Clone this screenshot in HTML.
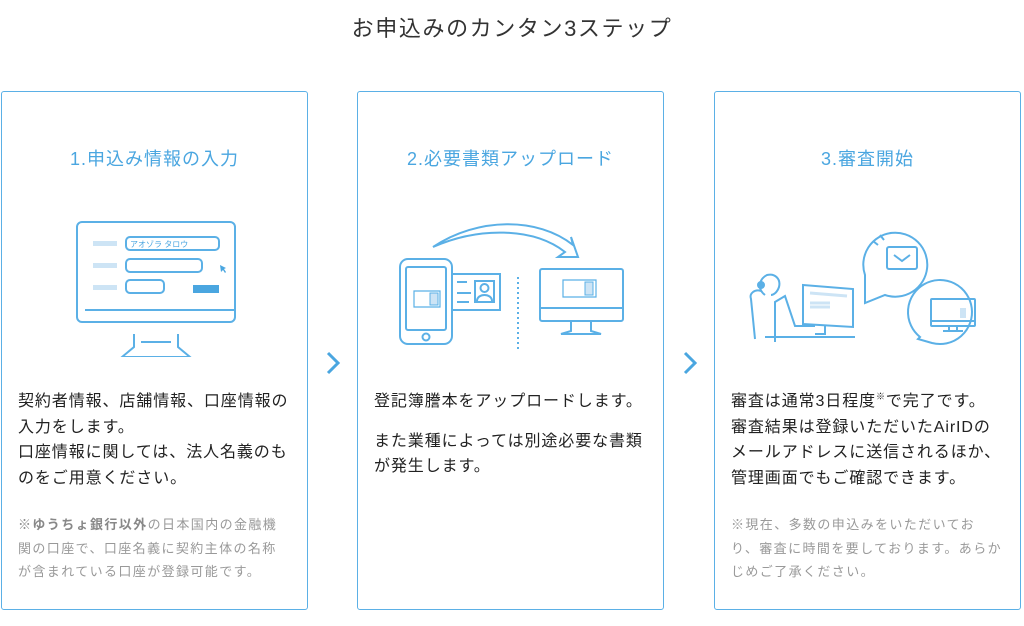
<!DOCTYPE html>
<html><head><meta charset="utf-8"><style>
body{margin:0;width:1024px;height:626px;background:#fff;font-family:"Liberation Sans","Noto Sans CJK JP",sans-serif;color:#222;position:relative;overflow:hidden}
h1{position:absolute;top:11px;left:0;width:1024px;text-align:center;font-size:22px;letter-spacing:1.6px;font-weight:normal;margin:0;color:#333}
.card{position:absolute;top:91px;width:307px;height:519px;border:1px solid #5bb0e6;border-radius:3px;box-sizing:border-box}
.card h2{position:absolute;top:53px;left:0;width:100%;text-align:center;font-size:18px;letter-spacing:1px;font-weight:normal;color:#4aa6e0;margin:0}
.body{position:absolute;left:16px;top:297px;width:276px;font-size:16px;letter-spacing:0.9px;line-height:25.6px;color:#222}
.note{position:absolute;left:16px;top:421px;width:272px;font-size:13px;letter-spacing:1.4px;line-height:23.5px;color:#999}
.note b{color:#888}
.ic{position:absolute;left:0;top:115px}
.chev{position:absolute;top:350px;width:20px;height:26px}
svg *{vector-effect:non-scaling-stroke}
</style></head><body>
<h1>お申込みのカンタン3ステップ</h1>

<div class="card" style="left:1px">
<h2>1.申込み情報の入力</h2>
<svg class="ic" width="305" height="150" viewBox="0 0 305 150" fill="none" stroke="#5bb0e6" stroke-width="2">
<rect x="75" y="15" width="158" height="100" rx="5"/>
<line x1="83" y1="103" x2="232" y2="103"/>
<path d="M132 127v13l-12 10h68l-12-10v-13M139 135h30"/>
<rect x="91" y="34" width="24" height="5" fill="#cde4f5" stroke="none"/>
<rect x="91" y="56" width="24" height="5" fill="#cde4f5" stroke="none"/>
<rect x="91" y="78" width="24" height="5" fill="#cde4f5" stroke="none"/>
<rect x="124" y="30" width="93" height="13" rx="4"/>
<rect x="124" y="52" width="76" height="13" rx="4"/>
<rect x="124" y="73" width="38" height="13" rx="4"/>
<rect x="191" y="78" width="26" height="8" fill="#4aa6e0" stroke="none"/>
<path d="M218 58l6 3-2 1 2 3-1 1-2-3-2 2z" fill="#4aa6e0" stroke="none"/>
<text x="128" y="40" font-size="8" fill="#4aa6e0" stroke="none" font-family="Liberation Sans,Noto Sans CJK JP,sans-serif">アオゾラ タロウ</text>
</svg>
<div class="body">契約者情報、店舗情報、口座情報の入力をします。<br>口座情報に関しては、法人名義のものをご用意ください。</div>
<div class="note"><b>※ゆうちょ銀行以外</b>の日本国内の金融機関の口座で、口座名義に契約主体の名称が含まれている口座が登録可能です。</div>
</div>

<svg class="chev" style="left:323px" viewBox="0 0 20 26" fill="none" stroke="#4aa6e0" stroke-width="3"><path d="M5 3l10 10-10 10"/></svg>

<div class="card" style="left:357px">
<h2>2.必要書類アップロード</h2>
<svg class="ic" width="305" height="150" viewBox="0 0 305 150" fill="none" stroke="#5bb0e6" stroke-width="2">
<path d="M75 40 C120 10 180 10 215 38 L213 30 L220 50 L200 50 L207 45 C175 20 120 20 75 40 Z"/>
<rect x="42" y="52" width="52" height="85" rx="8"/>
<rect x="48" y="60" width="40" height="63" rx="2"/>
<circle cx="68" cy="130" r="3.5"/>
<rect x="56" y="84" width="26" height="16" stroke-width="1.2"/>
<rect x="72" y="86" width="8" height="12" fill="#cde4f5" stroke-width="1"/>
<path d="M94 67h48v36h-48M99 75h10M99 86h14M99 95h12"/>
<rect x="117" y="74" width="19" height="21"/>
<circle cx="126.5" cy="81" r="4"/><path d="M119 94c0-8 15-8 15 0"/>
<line x1="160" y1="70" x2="160" y2="143" stroke-dasharray="2 3"/>
<rect x="182" y="62" width="83" height="52" rx="2"/>
<line x1="183" y1="101" x2="264" y2="101"/>
<path d="M213 114v10l-10 3h40l-10-3v-10"/>
<rect x="205" y="73" width="33" height="17" stroke-width="1.2"/>
<rect x="227" y="75" width="8" height="13" fill="#cde4f5" stroke-width="1"/>
</svg>
<div class="body">登記簿謄本をアップロードします。<br><div style="height:14px"></div>また業種によっては別途必要な書類が発生します。</div>
</div>

<svg class="chev" style="left:680px" viewBox="0 0 20 26" fill="none" stroke="#4aa6e0" stroke-width="3"><path d="M5 3l10 10-10 10"/></svg>

<div class="card" style="left:714px">
<h2>3.審査開始</h2>
<svg class="ic" width="305" height="150" viewBox="0 0 305 150" fill="none" stroke="#5bb0e6" stroke-width="2">
<path d="M150 68 a32 32 0 1 1 20 20 l-20 8 z"/>
<rect x="172" y="40" width="30" height="22" rx="2"/><path d="M179 48l8 6 8-6"/>
<path d="M158 34l5 4M165 28l4 5"/>
<path d="M205 130 a32 32 0 1 1 12 6 l-14 -4 z"/>
<rect x="216" y="92" width="44" height="27" rx="1"/><line x1="216" y1="114" x2="260" y2="114"/>
<path d="M234 119v5h-6h20h-6v-5"/>
<rect x="245" y="101" width="6" height="10" fill="#cde4f5" stroke="none"/>
<path d="M88 78l50 4v38l-50-3z"/>
<path d="M95 86l37 3M95 96h20M95 100h20" stroke="#cde4f5" stroke-width="3"/>
<path d="M110 119v8h-10M50 130h90"/>
<path d="M40 132l-4-40c-2-6 4-10 10-8"/>
<path d="M60 135v-40l10-6l10 30l20 0"/>
<path d="M50 88c-8-6-6-16 2-20c8-2 14 4 12 12c-2 6-6 8-8 8"/>
<circle cx="46" cy="78" r="3" fill="#5bb0e6"/>
</svg>
<div class="body" style="width:300px;white-space:nowrap">審査は通常3日程度<sup style="font-size:9px;line-height:0">※</sup>で完了です。<br>審査結果は登録いただいたAirIDの<br>メールアドレスに送信されるほか、<br>管理画面でもご確認できます。</div>
<div class="note">※現在、多数の申込みをいただいており、審査に時間を要しております。あらかじめご了承ください。</div>
</div>
</body></html>
